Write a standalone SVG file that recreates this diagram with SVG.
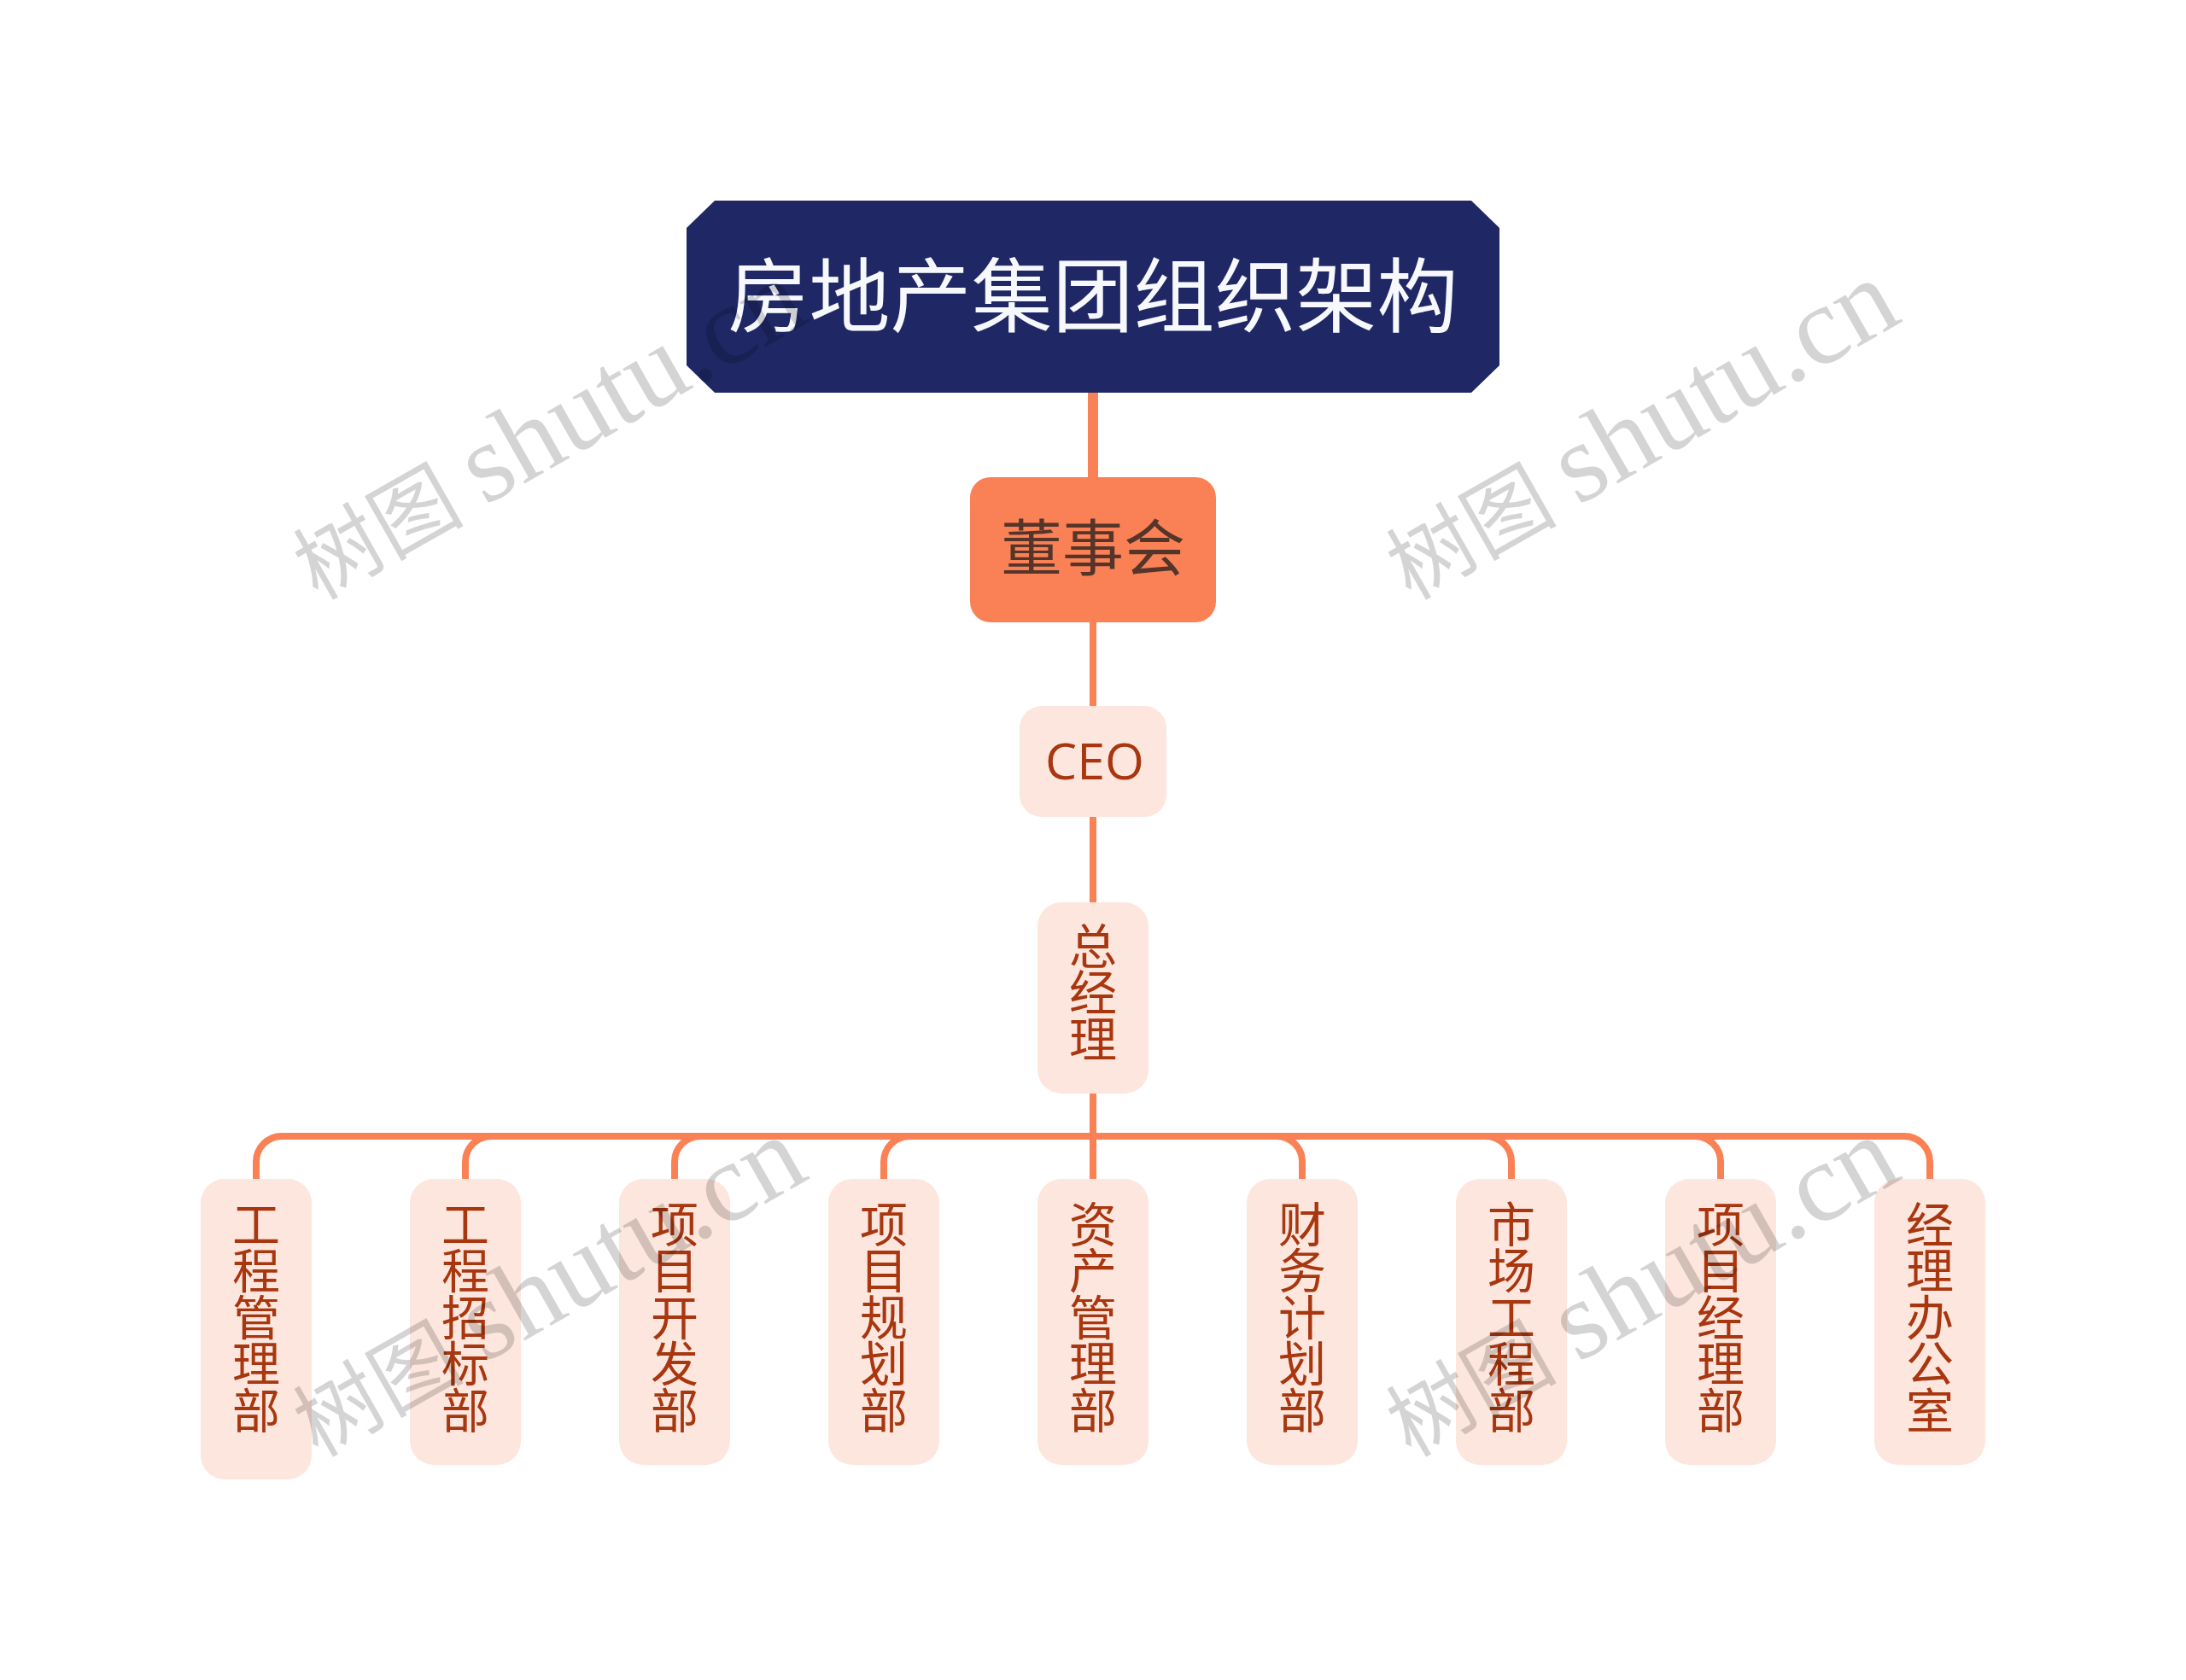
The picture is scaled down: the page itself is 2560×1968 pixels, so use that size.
<svg xmlns="http://www.w3.org/2000/svg" width="2560" height="1968" viewBox="0 0 2560 1968">
<style>
text{font-family:"Noto Sans CJK SC","Noto Sans",sans-serif;text-anchor:middle}
.lf{fill:#fde6dd}
.lt{fill:#a8360f;font-size:56px}
.c{fill:none;stroke:#fa8155;stroke-width:8}
.wm{font-family:"Liberation Serif","Noto Sans CJK SC",serif;font-size:100px;fill:#000;fill-opacity:.17;text-anchor:start}
.la{font-size:131px}
</style>
<rect width="2560" height="1968" fill="#fff"/>
<g id="connectors">
<path class="c" style="stroke-width:12" d="M1280 460V559"/>
<path class="c" d="M1280 729V827"/>
<path class="c" d="M1280 957V1057"/>
<path class="c" d="M1280 1281V1381"/>
<path class="c" d="M1280 1331H330A30 30 0 0 0 300 1361V1381"/>
<path class="c" d="M1280 1331H575A30 30 0 0 0 545 1361V1381"/>
<path class="c" d="M1280 1331H820A30 30 0 0 0 790 1361V1381"/>
<path class="c" d="M1280 1331H1065A30 30 0 0 0 1035 1361V1381"/>
<path class="c" d="M1280 1331H1495A30 30 0 0 1 1525 1361V1381"/>
<path class="c" d="M1280 1331H1740A30 30 0 0 1 1770 1361V1381"/>
<path class="c" d="M1280 1331H1985A30 30 0 0 1 2015 1361V1381"/>
<path class="c" d="M1280 1331H2230A30 30 0 0 1 2260 1361V1381"/>
</g>
<g id="root"><polygon points="837,235 1723,235 1756,267 1756,428 1723,460 837,460 804,428 804,267" fill="#1f2765"/><text x="1280" y="382" font-size="95" fill="#f6f8fc">房地产集团组织架构</text></g>
<g id="board"><rect x="1136" y="559" width="288" height="170" rx="24" fill="#fa8155"/><text x="1280" y="668" font-size="72" fill="#55352a">董事会</text></g>
<g id="ceo"><rect class="lf" x="1194" y="827" width="172" height="130" rx="26"/><text class="lt" x="1282" y="913" style="font-family:'Open Sans',sans-serif;font-size:59px">CEO</text></g>
<g id="gm"><rect class="lf" x="1215" y="1057" width="130" height="224" rx="28"/><text class="lt"><tspan x="1280" y="1129">总</tspan><tspan x="1280" dy="54.4">经</tspan><tspan x="1280" dy="54.4">理</tspan></text></g>
<g id="d1"><rect class="lf" x="235" y="1381" width="130" height="352" rx="28"/><text class="lt"><tspan x="300" y="1455">工</tspan><tspan x="300" dy="54.4">程</tspan><tspan x="300" dy="54.4">管</tspan><tspan x="300" dy="54.4">理</tspan><tspan x="300" dy="54.4">部</tspan></text></g>
<g id="d2"><rect class="lf" x="480" y="1381" width="130" height="335" rx="28"/><text class="lt"><tspan x="545" y="1455">工</tspan><tspan x="545" dy="54.4">程</tspan><tspan x="545" dy="54.4">招</tspan><tspan x="545" dy="54.4">标</tspan><tspan x="545" dy="54.4">部</tspan></text></g>
<g id="d3"><rect class="lf" x="725" y="1381" width="130" height="335" rx="28"/><text class="lt"><tspan x="790" y="1455">项</tspan><tspan x="790" dy="54.4">目</tspan><tspan x="790" dy="54.4">开</tspan><tspan x="790" dy="54.4">发</tspan><tspan x="790" dy="54.4">部</tspan></text></g>
<g id="d4"><rect class="lf" x="970" y="1381" width="130" height="335" rx="28"/><text class="lt"><tspan x="1035" y="1455">项</tspan><tspan x="1035" dy="54.4">目</tspan><tspan x="1035" dy="54.4">规</tspan><tspan x="1035" dy="54.4">划</tspan><tspan x="1035" dy="54.4">部</tspan></text></g>
<g id="d5"><rect class="lf" x="1215" y="1381" width="130" height="335" rx="28"/><text class="lt"><tspan x="1280" y="1455">资</tspan><tspan x="1280" dy="54.4">产</tspan><tspan x="1280" dy="54.4">管</tspan><tspan x="1280" dy="54.4">理</tspan><tspan x="1280" dy="54.4">部</tspan></text></g>
<g id="d6"><rect class="lf" x="1460" y="1381" width="130" height="335" rx="28"/><text class="lt"><tspan x="1525" y="1455">财</tspan><tspan x="1525" dy="54.4">务</tspan><tspan x="1525" dy="54.4">计</tspan><tspan x="1525" dy="54.4">划</tspan><tspan x="1525" dy="54.4">部</tspan></text></g>
<g id="d7"><rect class="lf" x="1705" y="1381" width="130" height="335" rx="28"/><text class="lt"><tspan x="1770" y="1455">市</tspan><tspan x="1770" dy="54.4">场</tspan><tspan x="1770" dy="54.4">工</tspan><tspan x="1770" dy="54.4">程</tspan><tspan x="1770" dy="54.4">部</tspan></text></g>
<g id="d8"><rect class="lf" x="1950" y="1381" width="130" height="335" rx="28"/><text class="lt"><tspan x="2015" y="1455">项</tspan><tspan x="2015" dy="54.4">目</tspan><tspan x="2015" dy="54.4">经</tspan><tspan x="2015" dy="54.4">理</tspan><tspan x="2015" dy="54.4">部</tspan></text></g>
<g id="d9"><rect class="lf" x="2195" y="1381" width="130" height="335" rx="28"/><text class="lt"><tspan x="2260" y="1455">经</tspan><tspan x="2260" dy="54.4">理</tspan><tspan x="2260" dy="54.4">办</tspan><tspan x="2260" dy="54.4">公</tspan><tspan x="2260" dy="54.4">室</tspan></text></g>
<g id="watermarks">
<text class="wm" transform="translate(372 704) rotate(-29.6)">树图 <tspan class="la">shutu.cn</tspan></text>
<text class="wm" transform="translate(1652 704) rotate(-29.6)">树图 <tspan class="la">shutu.cn</tspan></text>
<text class="wm" transform="translate(372 1708) rotate(-29.6)">树图 <tspan class="la">shutu.cn</tspan></text>
<text class="wm" transform="translate(1652 1708) rotate(-29.6)">树图 <tspan class="la">shutu.cn</tspan></text>
</g>
</svg>
